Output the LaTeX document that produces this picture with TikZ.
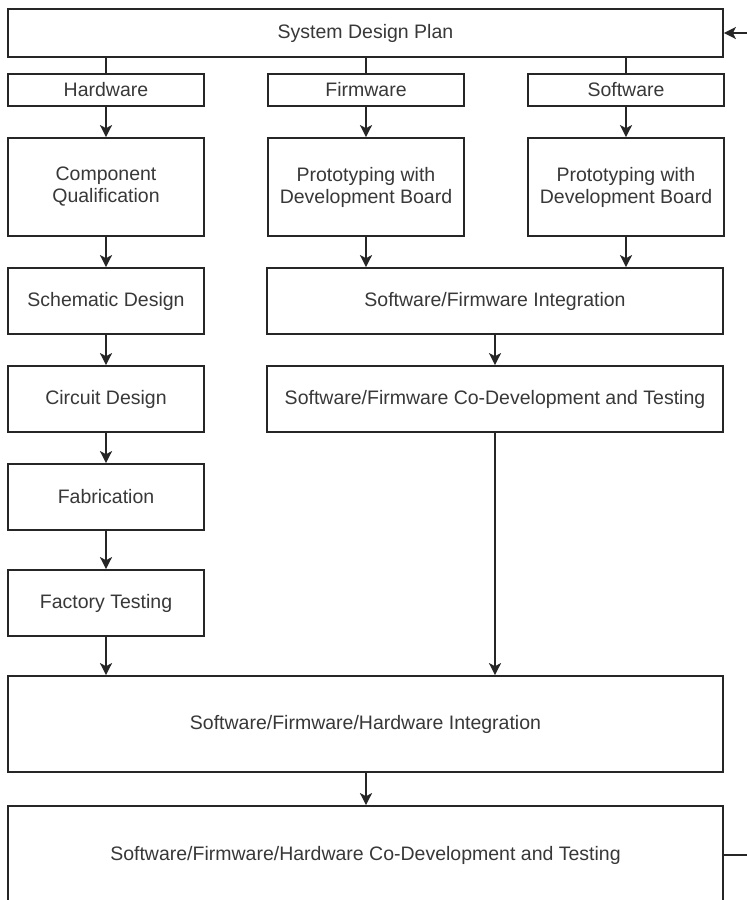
\documentclass[tikz,border=0pt]{standalone}
\usepackage{fontspec}
\setmainfont{Liberation Sans}
\usetikzlibrary{arrows.meta}
\begin{document}
\begin{tikzpicture}[x=1pt,y=-1pt,
  box/.style={draw=black!85, line width=1.7pt, fill=white, inner sep=0pt,
    text=black!78, align=center, font=\fontsize{19.5}{22}\selectfont},
  link/.style={draw=black!85, line width=1.7pt},
  arr/.style={link, -{Stealth[length=12pt,width=12pt,inset=3pt]}}]
\clip (0,0) rectangle (747,900);
\useasboundingbox (0,0) rectangle (747,900);

% top-level plan
\node[box, minimum width=715pt, minimum height=48pt] (plan) at (365.5,33) {System Design Plan};

% three branches
\node[box, minimum width=196pt, minimum height=32pt] (hw) at (106,90) {Hardware};
\node[box, minimum width=196pt, minimum height=32pt] (fw) at (366,90) {Firmware};
\node[box, minimum width=196pt, minimum height=32pt] (sw) at (626,90) {Software};

% hardware chain
\node[box, minimum width=196pt, minimum height=98pt] (comp) at (106,187) {Component\\Qualification};
\node[box, minimum width=196pt, minimum height=66pt] (schem) at (106,301) {Schematic Design};
\node[box, minimum width=196pt, minimum height=66pt] (circ) at (106,399) {Circuit Design};
\node[box, minimum width=196pt, minimum height=66pt] (fab) at (106,497) {Fabrication};
\node[box, minimum width=196pt, minimum height=66pt] (fact) at (106,603) {Factory Testing};

% firmware / software chain
\node[box, minimum width=196pt, minimum height=98pt] (fwproto) at (366,187) {Prototyping with\\Development Board};
\node[box, minimum width=196pt, minimum height=98pt] (swproto) at (626,187) {Prototyping with\\Development Board};
\node[box, minimum width=456pt, minimum height=66pt] (swfwint) at (495,301) {Software/Firmware Integration};
\node[box, minimum width=456pt, minimum height=66pt] (swfwdev) at (495,399) {Software/Firmware Co-Development and Testing};

% full-system stages
\node[box, minimum width=715pt, minimum height=96pt] (allint) at (365.5,724) {Software/Firmware/Hardware Integration};
\node[box, minimum width=715pt, minimum height=98pt] (alldev) at (365.5,855) {Software/Firmware/Hardware Co-Development and Testing};

% plan to branches
\draw[link] (plan.south -| hw.north) -- (hw.north);
\draw[link] (plan.south -| fw.north) -- (fw.north);
\draw[link] (plan.south -| sw.north) -- (sw.north);

% hardware flow
\draw[arr] (hw) -- (comp);
\draw[arr] (comp) -- (schem);
\draw[arr] (schem) -- (circ);
\draw[arr] (circ) -- (fab);
\draw[arr] (fab) -- (fact);
\draw[arr] (fact.south) -- (allint.north -| fact.south);

% firmware / software flow
\draw[arr] (fw) -- (fwproto);
\draw[arr] (sw) -- (swproto);
\draw[arr] (fwproto.south) -- (swfwint.north -| fwproto.south);
\draw[arr] (swproto.south) -- (swfwint.north -| swproto.south);
\draw[arr] (swfwint) -- (swfwdev);
\draw[arr] (swfwdev.south) -- (allint.north -| swfwdev.south);

% integration to co-development
\draw[arr] (allint.south -| fw.south) -- (alldev.north -| fw.south);

% feedback loop back to the plan
\coordinate (loop) at (770,855);
\draw[arr] (alldev.east) -- (loop) |- (plan.east);
\end{tikzpicture}
\end{document}
